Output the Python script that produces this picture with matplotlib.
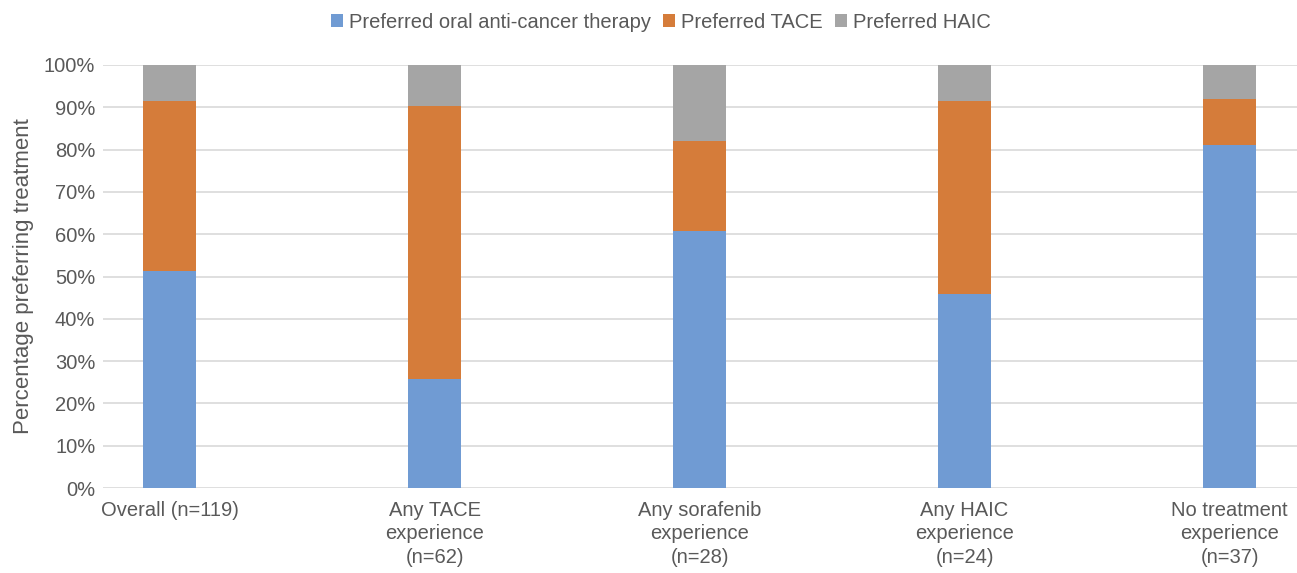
import matplotlib
matplotlib.use("Agg")
import matplotlib.pyplot as plt
import numpy as np

categories = ["Overall (n=119)", "Any TACE\nexperience\n(n=62)", "Any sorafenib\nexperience\n(n=28)",
              "Any HAIC\nexperience\n(n=24)", "No treatment\nexperience\n(n=37)"]
oral = [51.3, 25.8, 60.7, 45.8, 81.1]
tace = [40.3, 64.5, 21.4, 45.8, 10.8]
haic = [8.4, 9.7, 17.9, 8.4, 8.1]
series_names = ["Preferred oral anti-cancer therapy", "Preferred TACE", "Preferred HAIC"]
colors = ["#709BD3", "#D57C3A", "#A5A5A5"]

plt.rcParams['font.family'] = ['Liberation Sans', 'DejaVu Sans']
text_color = "#595959"
fs = 14.5

fig = plt.figure(figsize=(12.97, 5.73), dpi=100)
ax = fig.add_axes([103/1297, 1-488/573, 1-103/1297, (488-65)/573])

x = np.arange(len(categories))
w = 0.2
bottom = np.zeros(len(categories))
handles = []
for vals, name, c in zip([oral, tace, haic], series_names, colors):
    b = ax.bar(x, vals, w, bottom=bottom, color=c, label=name, zorder=3)
    handles.append(b)
    bottom += np.array(vals)

ax.set_ylim(0, 100)
ax.set_xlim(-66.5/265, (1297-169.5)/265)
ax.set_yticks(np.arange(0, 101, 10))
ax.set_yticklabels([f"{v}%" for v in range(0, 101, 10)], fontsize=fs, color=text_color)
ax.set_xticks(x)
ax.set_xticklabels(categories, fontsize=fs, color=text_color, linespacing=1.32)
ax.tick_params(axis='y', length=0, pad=5.5)
ax.tick_params(axis='x', length=0, pad=9)
for s in ax.spines.values():
    s.set_visible(False)
ax.grid(axis='y', color="#D9D9D9", linewidth=1.2, zorder=0)
ax.set_axisbelow(True)
ax.set_ylabel("Percentage preferring treatment", fontsize=16, color=text_color, labelpad=7)

leg = fig.legend(handles=handles, labels=series_names, loc='center', bbox_to_anchor=(661/1297, 1-22/573),
                 ncol=3, frameon=False, fontsize=fs, handlelength=0.6, handleheight=0.6,
                 handletextpad=0.3, columnspacing=0.6)
for t in leg.get_texts():
    t.set_color(text_color)

fig.savefig("out.png", dpi=100)
